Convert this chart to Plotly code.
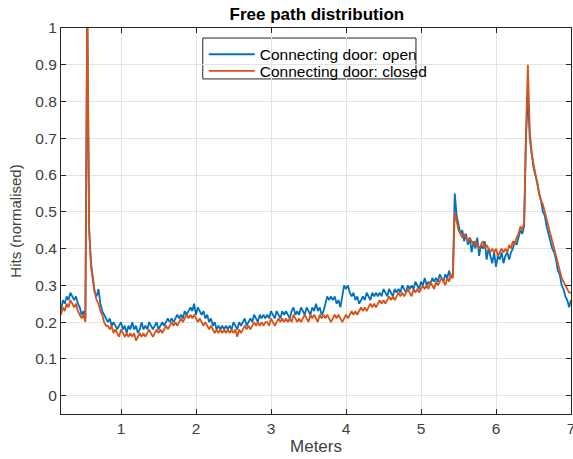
import numpy as np
import plotly.graph_objects as go

# x sampled every 0.025 m from 0.2 to 7.0 (rows of 10 samples = 0.25 m)
x_start = 0.2
x_step = 0.025

open_hits = [
    0.23, 0.26, 0.25, 0.27, 0.26, 0.28, 0.27, 0.26, 0.27, 0.25,
    0.24, 0.22, 0.23, 0.21, 1.06, 0.45, 0.36, 0.32, 0.28, 0.27,
    0.29, 0.25, 0.23, 0.22, 0.21, 0.20, 0.21, 0.19, 0.20, 0.19,
    0.18, 0.19, 0.20, 0.18, 0.19, 0.17, 0.19, 0.18, 0.20, 0.18,
    0.19, 0.17, 0.18, 0.20, 0.18, 0.19, 0.18, 0.20, 0.19, 0.18,
    0.19, 0.20, 0.18, 0.19, 0.20, 0.19, 0.20, 0.21, 0.20, 0.21,
    0.20, 0.21, 0.22, 0.21, 0.22, 0.21, 0.23, 0.22, 0.23, 0.24,
    0.23, 0.25, 0.22, 0.24, 0.23, 0.22, 0.23, 0.21, 0.22, 0.20,
    0.21, 0.19, 0.20, 0.18, 0.19, 0.18, 0.19, 0.18, 0.19, 0.18,
    0.19, 0.18, 0.20, 0.19, 0.18, 0.20, 0.19, 0.20, 0.21, 0.19,
    0.20, 0.21, 0.20, 0.22, 0.21, 0.20, 0.22, 0.21, 0.22, 0.21,
    0.22, 0.21, 0.23, 0.22, 0.21, 0.23, 0.22, 0.21, 0.23, 0.22,
    0.23, 0.22, 0.21, 0.23, 0.24, 0.22, 0.23, 0.22, 0.24, 0.23,
    0.22, 0.24, 0.23, 0.22, 0.24, 0.23, 0.25, 0.23, 0.24, 0.22,
    0.23, 0.25, 0.27, 0.26, 0.27, 0.26, 0.27, 0.25, 0.26, 0.24,
    0.27, 0.30, 0.29, 0.30, 0.28, 0.27, 0.28, 0.26, 0.27, 0.25,
    0.26, 0.27, 0.26, 0.28, 0.27, 0.26, 0.28, 0.27, 0.28, 0.27,
    0.28, 0.27, 0.29, 0.28, 0.27, 0.29, 0.28, 0.27, 0.29, 0.28,
    0.29, 0.28, 0.30, 0.29, 0.28, 0.30, 0.29, 0.30, 0.29, 0.31,
    0.30, 0.29, 0.31, 0.30, 0.32, 0.30, 0.31, 0.30, 0.32, 0.31,
    0.32, 0.31, 0.33, 0.32, 0.31, 0.33, 0.32, 0.34, 0.32, 0.33,
    0.55, 0.49, 0.46, 0.44, 0.45, 0.42, 0.44, 0.41, 0.43, 0.39,
    0.42, 0.40, 0.43, 0.38, 0.41, 0.40, 0.42, 0.37, 0.40, 0.38,
    0.36, 0.39, 0.35, 0.38, 0.37, 0.39, 0.36, 0.38, 0.39, 0.37,
    0.39, 0.40, 0.42, 0.41, 0.43, 0.45, 0.44, 0.46, 0.70, 0.82,
    0.70, 0.66, 0.62, 0.60, 0.58, 0.55, 0.53, 0.50, 0.49, 0.46,
    0.44, 0.42, 0.40, 0.39, 0.37, 0.34, 0.33, 0.30, 0.29, 0.27,
    0.26, 0.24, 0.26,
]

closed_hits = [
    0.22, 0.24, 0.23, 0.25, 0.24, 0.26, 0.25, 0.24, 0.25, 0.23,
    0.22, 0.21, 0.22, 0.20, 1.08, 0.46, 0.35, 0.31, 0.28, 0.26,
    0.25, 0.23, 0.22, 0.20, 0.19, 0.19, 0.18, 0.19, 0.17, 0.18,
    0.17, 0.16, 0.18, 0.17, 0.16, 0.17, 0.16, 0.17, 0.16, 0.17,
    0.15, 0.16, 0.17, 0.16, 0.17, 0.16, 0.17, 0.18, 0.17, 0.16,
    0.17, 0.18, 0.17, 0.18, 0.17, 0.18, 0.19, 0.18, 0.19, 0.20,
    0.19, 0.20, 0.19, 0.20, 0.21, 0.20, 0.21, 0.22, 0.21, 0.22,
    0.21, 0.22, 0.21, 0.20, 0.21, 0.20, 0.19, 0.20, 0.19, 0.18,
    0.19, 0.18, 0.17, 0.18, 0.17, 0.18, 0.17, 0.18, 0.17, 0.18,
    0.17, 0.18, 0.17, 0.18, 0.16, 0.18, 0.17, 0.18, 0.19, 0.18,
    0.19, 0.18, 0.19, 0.20, 0.19, 0.20, 0.19, 0.20, 0.19, 0.20,
    0.20, 0.19, 0.21, 0.20, 0.19, 0.20, 0.21, 0.20, 0.21, 0.20,
    0.21, 0.20, 0.21, 0.20, 0.22, 0.21, 0.20, 0.21, 0.20, 0.21,
    0.22, 0.21, 0.20, 0.22, 0.21, 0.22, 0.21, 0.20, 0.22, 0.21,
    0.22, 0.21, 0.22, 0.21, 0.20, 0.21, 0.22, 0.21, 0.22, 0.21,
    0.20, 0.21, 0.22, 0.21, 0.22, 0.23, 0.22, 0.23, 0.22, 0.23,
    0.24, 0.23, 0.24, 0.23, 0.24, 0.25, 0.24, 0.25, 0.24, 0.25,
    0.26, 0.25, 0.26, 0.25, 0.26, 0.27, 0.26, 0.27, 0.26, 0.27,
    0.28, 0.27, 0.28, 0.27, 0.28, 0.29, 0.28, 0.27, 0.29, 0.28,
    0.29, 0.28, 0.29, 0.30, 0.29, 0.30, 0.29, 0.31, 0.30, 0.29,
    0.31, 0.30, 0.31, 0.32, 0.31, 0.30, 0.32, 0.31, 0.33, 0.32,
    0.50, 0.47, 0.45, 0.44, 0.43, 0.44, 0.43, 0.42, 0.43, 0.42,
    0.41, 0.42, 0.41, 0.40, 0.41, 0.42, 0.40, 0.41, 0.40, 0.39,
    0.40, 0.39, 0.40, 0.38, 0.39, 0.40, 0.39, 0.40, 0.39, 0.41,
    0.40, 0.42, 0.41, 0.43, 0.44, 0.46, 0.45, 0.47, 0.72, 0.90,
    0.72, 0.66, 0.63, 0.60, 0.57, 0.55, 0.53, 0.52, 0.50, 0.48,
    0.46, 0.44, 0.42, 0.40, 0.38, 0.36, 0.34, 0.32, 0.31, 0.30,
    0.29, 0.28, 0.28,
]

x_ticks = [1, 2, 3, 4, 5, 6, 7]
y_ticks = [0, 0.1, 0.2, 0.3, 0.4, 0.5, 0.6, 0.7, 0.8, 0.9, 1]

x_open = np.round(x_start + x_step * np.arange(len(open_hits)), 4)
x_closed = np.round(x_start + x_step * np.arange(len(closed_hits)), 4)

FONT = "Liberation Sans, Arial, sans-serif"
AX = "#262626"

fig = go.Figure()
fig.add_trace(go.Scatter(x=x_open, y=open_hits, mode="lines",
                         name="Connecting door: open", legend="legend",
                         line=dict(color="#0072BD", width=1.8)))
fig.add_trace(go.Scatter(x=x_closed, y=closed_hits, mode="lines",
                         name="Connecting door: closed", legend="legend2",
                         line=dict(color="#D95319", width=1.8)))

axis_common = dict(showline=True, linecolor=AX, linewidth=1, mirror="ticks",
                   ticks="inside", ticklen=5, tickcolor=AX,
                   showgrid=True, gridcolor="#e3e3e3", gridwidth=1,
                   zeroline=False, automargin=False, ticklabeloverflow="allow",
                   tickfont=dict(family=FONT, size=15.5, color="#404040"))

# legend frame (white box behind the legend entries)
fig.add_shape(type="rect", xref="paper", yref="paper",
              x0=0.278, x1=0.696, y0=0.868, y1=0.974,
              fillcolor="white", line=dict(color=AX, width=1), layer="between")

legend_common = dict(xanchor="left", yanchor="top",
                     bgcolor="rgba(0,0,0,0)", borderwidth=0,
                     font=dict(family=FONT, size=15.5, color="#000000"),
                     itemwidth=46)

fig.update_layout(
    width=573, height=459,
    margin=dict(l=61, r=2, t=28, b=45),
    paper_bgcolor="white", plot_bgcolor="white",
    title=dict(text="<b>Free path distribution</b>", x=0.553, xanchor="center",
               y=0.982, yanchor="top",
               font=dict(family=FONT, size=17, color="#000000")),
    xaxis=dict(range=[0.2, 7], tickvals=x_ticks,
               title=dict(text="Meters", font=dict(family=FONT, size=17, color="#404040"),
                          standoff=2),
               **axis_common),
    yaxis=dict(range=[-0.05, 1], tickvals=y_ticks,
               title=dict(text="Hits (normalised)", font=dict(family=FONT, size=15, color="#404040"),
                          standoff=10),
               **axis_common),
    legend=dict(x=0.28, y=0.975, **legend_common),
    legend2=dict(x=0.28, y=0.932, **legend_common),
    showlegend=True,
)

fig.write_html("out.html", config={"displayModeBar": False},
               post_script="document.body.style.margin='0';")
